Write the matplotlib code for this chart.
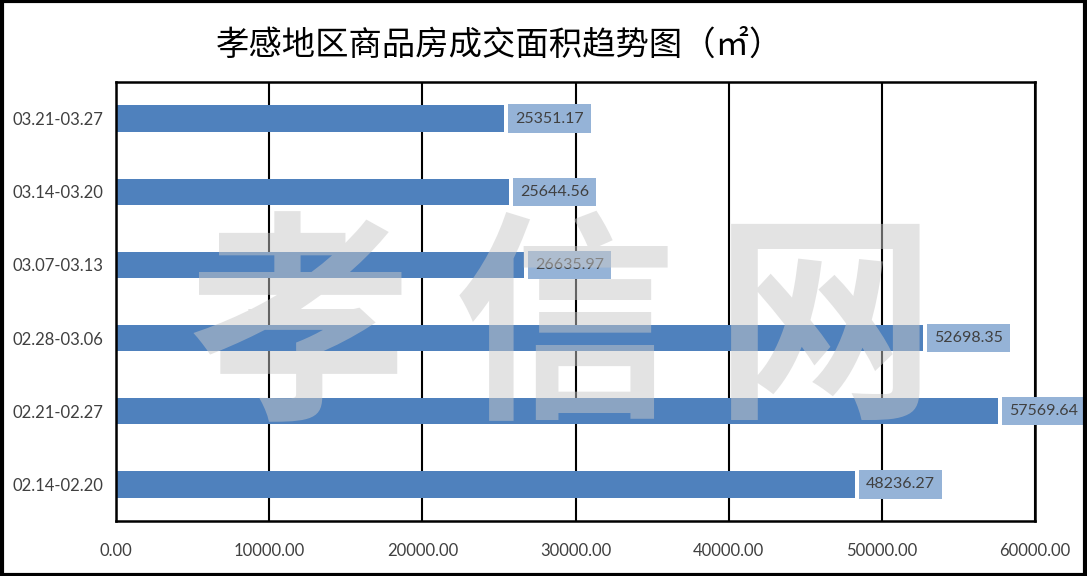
import matplotlib.pyplot as plt
from matplotlib.patches import Rectangle

# weekly data, bottom to top
weeks = ["02.14-02.20", "02.21-02.27", "02.28-03.06", "03.07-03.13", "03.14-03.20", "03.21-03.27"]
areas = [48236.27, 57569.64, 52698.35, 26635.97, 25644.56, 25351.17]
xticks = [0, 10000, 20000, 30000, 40000, 50000, 60000]

plt.rcParams['font.family'] = ['Lato', 'Noto Sans CJK SC', 'DejaVu Sans']

fig = plt.figure(figsize=(10.87, 5.76), dpi=100)
ax = fig.add_axes([116 / 1087, 1 - 521 / 576, (1035 - 116) / 1087, (521 - 82) / 576])

bar_color = '#4F81BD'
ax.barh(range(len(weeks)), areas, height=0.36, color=bar_color, zorder=2)

for i, v in enumerate(areas):
    ax.annotate(f"{v:.2f}", (v, i), xytext=(8, 0), textcoords='offset points',
                ha='left', va='center', fontsize=11.5, color='#404040', zorder=4,
                bbox=dict(boxstyle='square,pad=0.45', fc='#95B3D7', ec='none'))

ax.set_xlim(0, 60000)
ax.set_ylim(-0.5, len(weeks) - 0.5)
ax.set_xticks(xticks)
ax.set_xticklabels([f"{t:.2f}" for t in xticks])
ax.set_yticks(range(len(weeks)))
ax.set_yticklabels(weeks)
ax.tick_params(length=0, labelsize=12, colors='#404040', pad=9)
ax.tick_params(axis='x', pad=16)
ax.grid(axis='x', color='black', linewidth=1.5, zorder=1)
ax.set_axisbelow(True)
for s in ax.spines.values():
    s.set_color('black')
    s.set_linewidth(1.8)

fig.text(500 / 1087, 1 - 45 / 576, "孝感地区商品房成交面积趋势图（㎡）", ha='center', va='center',
         fontsize=24, family=['Noto Sans CJK SC', 'DejaVu Sans'], weight='medium', color='black')

# watermark, one glyph at a time so the spacing matches
for ch, cx in zip("孝信网", [300, 565, 825]):
    fig.text(cx / 1087, 1 - 335 / 576, ch, ha='center', va='center', fontsize=160,
             family=['Noto Sans CJK SC'], weight='bold', color='#C8C8C8', alpha=0.5, zorder=5)

fig.patches.append(Rectangle((0.0015, 0.002), 0.997, 0.996, transform=fig.transFigure,
                             fill=False, ec='black', lw=3))

fig.savefig('out.png', dpi=100)
